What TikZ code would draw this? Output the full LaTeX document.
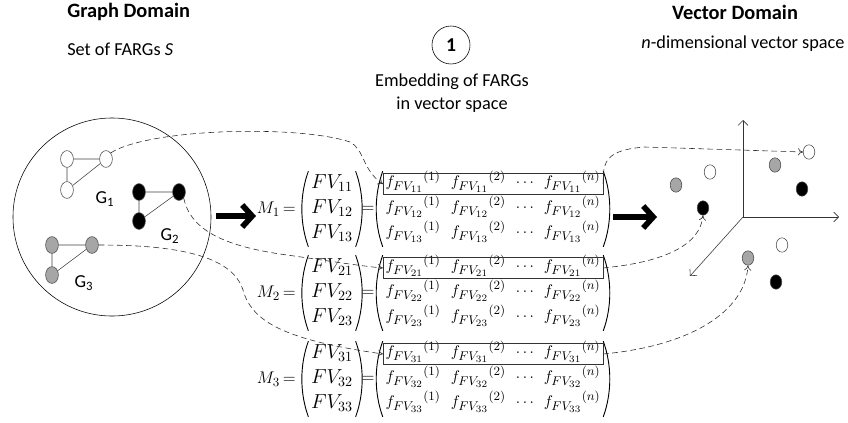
\documentclass[tikz,border=0pt]{standalone}
\usepackage{fontspec}
\setmainfont{Carlito}
\usepackage{amsmath}
\usetikzlibrary{shapes.geometric,matrix,positioning,arrows.meta,fit}
\DeclareMathSizes{11}{11}{8.6}{7}
\DeclareMathSizes{14}{14}{10.2}{8.2}

\tikzstyle{grnode} = [draw=black!70, ellipse, minimum width=0.32cm, minimum height=0.42cm, inner sep=0pt]
\tikzstyle{wnode} = [grnode, fill=white]
\tikzstyle{bnode} = [grnode, fill=black]
\tikzstyle{gnode} = [grnode, fill=black!35]
\tikzstyle{vpoint} = [draw=black!70, ellipse, minimum width=0.29cm, minimum height=0.36cm, inner sep=0pt]
\tikzstyle{title} = [inner sep=0pt, font=\fontsize{14.5}{17}\selectfont\bfseries]
\tikzstyle{caption} = [inner sep=0pt, font=\fontsize{13}{16}\selectfont]
\tikzstyle{glabel} = [font=\fontsize{13}{15}\selectfont]
\tikzstyle{edge} = [draw=black!75, thin]
\tikzstyle{link} = [black!85, thin, dash pattern=on 4pt off 2.5pt, -{To[length=3.5pt,width=5pt]}]
\tikzstyle{bigarrow} = [line width=4pt, -{Straight Barb[length=2.5mm,width=5.5mm]}]
\tikzstyle{axis} = [black!80, thin, -{Straight Barb[length=3.5pt,width=7pt]}]
\tikzstyle{fmat} = [matrix of math nodes, ampersand replacement=\&, inner sep=0pt,
    column sep=0.18cm, row sep=0pt,
    nodes={text height=10pt, text depth=5.8pt, inner sep=1pt, font=\fontsize{11}{13}\selectfont}]
\tikzstyle{fvmat} = [matrix of math nodes, ampersand replacement=\&, inner sep=0pt, row sep=0pt,
    nodes={text height=11pt, text depth=5pt, inner sep=0.9pt, font=\fontsize{14}{16}\selectfont}]
\tikzstyle{rowbox} = [draw=black!80, thin, inner xsep=0.5pt, inner ysep=-1.5pt]
\tikzstyle{eqnode} = [inner sep=0pt, font=\fontsize{12.5}{14}\selectfont]
\tikzstyle{paren} = [line width=0.65pt]

\newcommand{\matparens}[1]{%
  \draw[paren] ([xshift=-0.8pt]#1.north west) .. controls ([xshift=-7pt,yshift=-17pt]#1.north west)
    and ([xshift=-7pt,yshift=17pt]#1.south west) .. ([xshift=-0.8pt]#1.south west);
  \draw[paren] ([xshift=0.8pt]#1.north east) .. controls ([xshift=7pt,yshift=-17pt]#1.north east)
    and ([xshift=7pt,yshift=17pt]#1.south east) .. ([xshift=0.8pt]#1.south east);}

\begin{document}
\begin{tikzpicture}[x=0.025cm, y=-0.025cm]
\useasboundingbox (0,0) rectangle (848,422);

% headings
\node[title, anchor=west] (gtitle) at (67,12) {Graph Domain};
\node[caption, anchor=west] (gsub) at (67,49) {Set of FARGs \textit{S}};
\node[title] (vtitle) at (735,12) {Vector Domain};
\node[caption] (vsub) at (743,44) {\textit{n}-dimensional vector space};
\node[draw, circle, thin, minimum size=0.95cm, inner sep=0pt, font=\fontsize{14}{16}\selectfont\bfseries] (step1) at (451,45) {1};
\node[caption, align=center] (embed) at (452,93) {Embedding of FARGs\\in vector space};

% graph domain
\node[draw, circle, thin, minimum size=4.95cm] (fset) at (112,217) {};
\node[wnode] (g1a) at (67,159) {};
\node[wnode] (g1b) at (106,159) {};
\node[wnode] (g1c) at (67,190) {};
\draw[edge] (g1a) -- (g1b) (g1a) -- (g1c) (g1c) -- (g1b);
\node[glabel] (g1l) at (105,199) {G\textsubscript{1}};
\node[bnode] (g2a) at (139,192) {};
\node[bnode] (g2b) at (179,192) {};
\node[bnode] (g2c) at (139,221) {};
\draw[edge] (g2a) -- (g2b) (g2a) -- (g2c) (g2c) -- (g2b);
\node[glabel] (g2l) at (170,236) {G\textsubscript{2}};
\node[gnode] (g3a) at (52,245) {};
\node[gnode] (g3b) at (92,245) {};
\node[gnode] (g3c) at (52,275) {};
\draw[edge] (g3a) -- (g3b) (g3a) -- (g3c) (g3c) -- (g3b);
\node[glabel] (g3l) at (84,283) {G\textsubscript{3}};

\coordinate (a1s) at (216,216);
\coordinate (a1e) at (256,216);
\draw[bigarrow] (a1s) -- (a1e);

% matrices
\foreach \i/\y in {1/209, 2/293, 3/379}{
  \node[eqnode, anchor=east] (lhs\i) at (296,\y) {$M_{\i}\,{=}$};
  \matrix (fv\i) [fvmat] at (332,\y) {
    FV_{\i1}\\
    FV_{\i2}\\
    FV_{\i3}\\
  };
  \matparens{fv\i}
  \node[eqnode] (eq\i) at (368,\y) {$=$};
  \matrix (m\i) [fmat] at (493,\y) {
    {f_{FV_{\i1}}}^{(1)} \& {f_{FV_{\i1}}}^{(2)} \& \cdots \& {f_{FV_{\i1}}}^{(n)}\\
    {f_{FV_{\i2}}}^{(1)} \& {f_{FV_{\i2}}}^{(2)} \& \cdots \& {f_{FV_{\i2}}}^{(n)}\\
    {f_{FV_{\i3}}}^{(1)} \& {f_{FV_{\i3}}}^{(2)} \& \cdots \& {f_{FV_{\i3}}}^{(n)}\\
  };
  \matparens{m\i}
  \node[rowbox, fit=(m\i-1-1)(m\i-1-4)] (box\i) {};
}

\coordinate (a2s) at (613,217);
\coordinate (a2e) at (657,217);
\draw[bigarrow] (a2s) -- (a2e);

% vector domain
\coordinate (orig) at (743,217);
\coordinate (yend) at (743,120);
\coordinate (xend) at (839,217);
\coordinate (zend) at (690,276);
\draw[axis] (orig) -- (yend);
\draw[axis] (orig) -- (xend);
\draw[axis] (orig) -- (zend);
\node[vpoint, fill=white] (vw1) at (809,152) {};
\node[vpoint, fill=black!35] (vg1) at (775,165) {};
\node[vpoint, fill=black] (vb1) at (802,189) {};
\node[vpoint, fill=black!35] (vg2) at (676,185) {};
\node[vpoint, fill=white] (vw2) at (710,172) {};
\node[vpoint, fill=black] (vb2) at (703,208) {};
\node[vpoint, fill=white] (vw3) at (782,245) {};
\node[vpoint, fill=black!35] (vg3) at (748,258) {};
\node[vpoint, fill=black] (vb3) at (776,282) {};

% embedding links
\draw[link] (g1b.north east) .. controls (150,128) and (300,125) .. (350,142)
  .. controls (365,150) and (362,170) .. (box1.west);
\draw[link] (g2b.south east) .. controls (190,228) and (220,245) .. (280,254)
  .. controls (330,261) and (360,266) .. (box2.west);
\draw[link] (g3b.east) .. controls (175,245) and (232,255) .. (243,290)
  .. controls (252,322) and (285,340) .. (box3.west);
\draw[link] (box1.east) .. controls (603,162) and (605,150) .. (645,147) -- (vw1.west);
\draw[link] (box2.east) .. controls (665,262) and (700,245) .. (vb2.south);
\draw[link] (box3.east) .. controls (690,346) and (745,312) .. (vg3.south);
\end{tikzpicture}
\end{document}
